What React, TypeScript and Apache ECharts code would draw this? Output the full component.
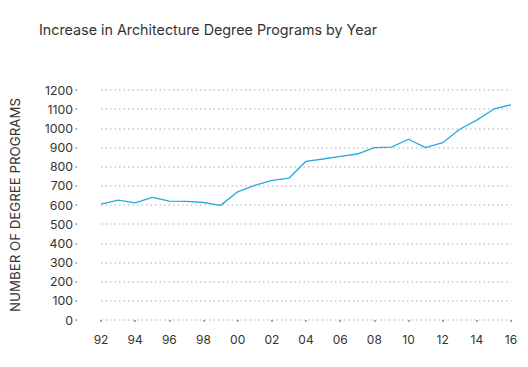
import React, { useEffect, useRef } from "react";
import * as echarts from "echarts";

const title = "Increase in Architecture Degree Programs by Year";
const yAxisName = "NUMBER OF DEGREE PROGRAMS";
const years = [
  "1992", "1993", "1994", "1995", "1996", "1997", "1998", "1999", "2000",
  "2001", "2002", "2003", "2004", "2005", "2006", "2007", "2008", "2009",
  "2010", "2011", "2012", "2013", "2014", "2015", "2016",
];
const programs = [
  604, 625, 611, 640, 620, 619, 613, 598, 669, 702, 728, 740, 828, 840, 854,
  866, 899, 902, 943, 899, 925, 995, 1043, 1101, 1123,
];

export default function App() {
  const ref = useRef<HTMLDivElement>(null);
  useEffect(() => {
    if (!ref.current) return;
    const chart = echarts.init(ref.current, null, { renderer: "svg" });
    const font = "Inter, 'Noto Sans', sans-serif";
    chart.setOption({
      animation: false,
      backgroundColor: "#ffffff",
      title: {
        text: title,
        left: 34,
        top: 17,
        textStyle: { fontFamily: font, fontSize: 14.3, fontWeight: "normal", color: "#333333" },
      },
      grid: { left: 98, right: 17, top: 90, bottom: 47, containLabel: false },
      xAxis: {
        type: "category",
        data: years,
        boundaryGap: false,
        offset: 0,
        axisLine: { show: false },
        axisTick: { show: true, interval: 1, length: 2, lineStyle: { color: "#888888", width: 1.5 } },
        axisLabel: {
          interval: 1,
          margin: 13,
          fontFamily: font,
          fontSize: 12,
          color: "#333333",
          formatter: (v: string) => v.slice(2),
        },
        splitLine: { show: false },
      },
      yAxis: {
        type: "value",
        min: 0,
        max: 1200,
        interval: 100,
        offset: 24,
        name: yAxisName,
        nameLocation: "middle",
        nameGap: 56,
        nameTextStyle: { fontFamily: font, fontSize: 13.3, color: "#333333" },
        axisLine: { show: false },
        axisTick: { show: true, length: 1.5, lineStyle: { color: "#888888", width: 1.5 } },
        axisLabel: {
          margin: 4,
          fontFamily: font,
          fontSize: 12.3,
          color: "#333333",
          formatter: (v: number) => String(v),
        },
        splitLine: {
          show: true,
          lineStyle: { color: "#c8c8c8", type: [1.5, 3], width: 1.5 },
        },
      },
      series: [
        {
          type: "line",
          data: programs,
          symbol: "none",
          lineStyle: { color: "#2aa9df", width: 1.3 },
        },
      ],
    });
    return () => chart.dispose();
  }, []);
  return (
    <div
      ref={ref}
      style={{ position: "fixed", left: 0, top: 0, width: 528, height: 367 }}
    />
  );
}
